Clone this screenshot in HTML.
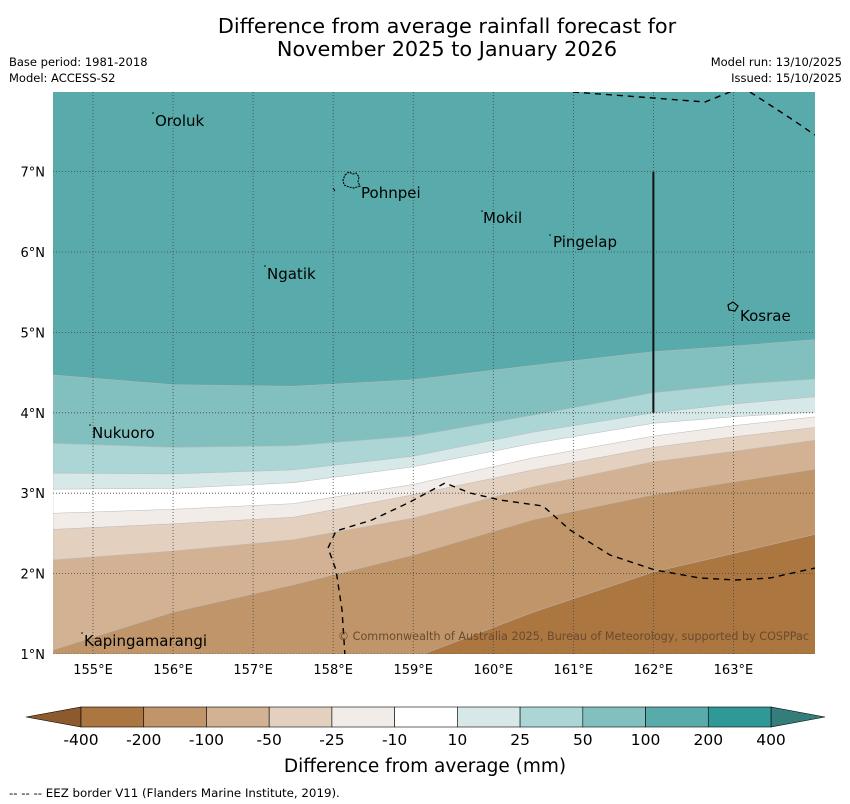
<!DOCTYPE html>
<html><head><meta charset="utf-8"><style>
body{margin:0;background:#fff;width:850px;height:804px;overflow:hidden;font-family:"Liberation Sans","DejaVu Sans",sans-serif}
svg{display:block}
</style></head><body>
<svg id="chart" width="850" height="804" viewBox="0 0 850 804" xmlns="http://www.w3.org/2000/svg">
<text x="447" y="33" font-size="20.8" text-anchor="middle" font-family="DejaVu Sans,sans-serif">Difference from average rainfall forecast for</text>
<text x="447" y="56" font-size="20.8" text-anchor="middle" font-family="DejaVu Sans,sans-serif">November 2025 to January 2026</text>
<text x="9" y="66" font-size="11.5" font-family="DejaVu Sans,sans-serif">Base period: 1981-2018</text>
<text x="9" y="82" font-size="11.5" font-family="DejaVu Sans,sans-serif">Model: ACCESS-S2</text>
<text x="842" y="66" font-size="11.5" text-anchor="end" font-family="DejaVu Sans,sans-serif">Model run: 13/10/2025</text>
<text x="842" y="82" font-size="11.5" text-anchor="end" font-family="DejaVu Sans,sans-serif">Issued: 15/10/2025</text>
<defs><clipPath id="mapclip"><rect x="53" y="92" width="762" height="562"/></clipPath></defs>
<g id="map" clip-path="url(#mapclip)">
<rect x="53" y="92" width="762" height="562" fill="#59abab"/>
<g id="bands"></g>
<g id="grid"></g>
<line id="line162" stroke="#111" stroke-width="2"/>
<g fill="none" stroke="#000" stroke-width="1.4" stroke-dasharray="6,5">
<path d="M573 92 L640 97 L705 102 L735 90"/>
<path d="M750 92 L790 118 L815 135"/>
<path d="M345 656 L342 610 L336 570 L328 548 L336 531 L372 520 L410 502 L445 483 L470 493 L500 500 L543 506 L570 530 L610 555 L655 570 L700 578 L735 580 L770 578 L815 568"/>
</g>
<path d="M345 175 L349 172 L353 174 L356 173 L359 177 L358 182 L360 186 L354 188 L349 187 L344 185 L343 180 Z" fill="none" stroke="#000" stroke-width="1.1" stroke-dasharray="2,1"/>
<path d="M333 188 L335 191" stroke="#000" stroke-width="1"/>
<path d="M728 305 L733 302 L738 306 L735 311 L729 310 Z" fill="none" stroke="#000" stroke-width="1.2"/>
<g font-size="15" font-family="DejaVu Sans,sans-serif" fill="#000">
<text x="155" y="126">Oroluk</text>
<text x="361" y="198">Pohnpei</text>
<text x="483" y="223">Mokil</text>
<text x="553" y="247">Pingelap</text>
<text x="267" y="279">Ngatik</text>
<text x="740" y="321">Kosrae</text>
<text x="92" y="438">Nukuoro</text>
<text x="84" y="646">Kapingamarangi</text>
</g>
<g fill="#000"><circle cx="153" cy="113" r="0.8"/><circle cx="482" cy="211" r="0.8"/><circle cx="550" cy="235" r="0.8"/><circle cx="265" cy="266" r="0.8"/><circle cx="90" cy="425" r="0.8"/><circle cx="82" cy="633" r="0.8"/></g>
<text x="809" y="640" font-size="11.2" text-anchor="end" fill="#6b4a2e" font-family="DejaVu Sans,sans-serif">© Commonwealth of Australia 2025, Bureau of Meteorology, supported by COSPPac</text>
</g>
<g id="axes" font-size="13" font-family="DejaVu Sans,sans-serif"></g>
<g id="colorbar"></g>
<text x="425" y="772" font-size="18.5" text-anchor="middle" font-family="DejaVu Sans,sans-serif">Difference from average (mm)</text>
<text x="9" y="797" font-size="11.8" font-family="DejaVu Sans,sans-serif">--  --  -- EEZ border V11 (Flanders Marine Institute, 2019).</text>
</svg>
<script>
const lons = [154.5, 156, 157.5, 159, 160.5, 162, 163, 164.03];
const b200 = [4.47, 4.35, 4.33, 4.41, 4.59, 4.76, 4.83, 4.91];
const b100 = [3.62, 3.57, 3.59, 3.71, 3.97, 4.25, 4.35, 4.42];
const b50 = [3.25, 3.24, 3.29, 3.46, 3.76, 4.00, 4.11, 4.20];
const b25 = [3.05, 3.06, 3.13, 3.33, 3.62, 3.87, 3.95, 4.01];
const b10 = [2.75, 2.80, 2.87, 3.11, 3.44, 3.71, 3.84, 3.95];
const bm10 = [2.55, 2.62, 2.70, 2.98, 3.29, 3.57, 3.70, 3.82];
const bm25 = [2.17, 2.28, 2.42, 2.69, 3.08, 3.39, 3.52, 3.66];
const bm50 = [1.05, 1.52, 1.86, 2.23, 2.67, 2.98, 3.14, 3.30];
const bm100 = [0.7, 0.7, 0.7, 0.95, 1.52, 2.02, 2.25, 2.49];
const levels = ["-400","-200","-100","-50","-25","-10","10","25","50","100","200","400"];
const levelColors = ["#ab7640","#c0956a","#d2b292","#e3d0bf","#f2ece8","#ffffff","#d6e9e8","#abd6d5","#81c0bf","#59abab","#2f9998"];
const lonTicks = [155,156,157,158,159,160,161,162,163];
const latTicks = [1,2,3,4,5,6,7];
const NS="http://www.w3.org/2000/svg";
const xS = lon => 53 + (lon - 154.5) * 80.05;
const yS = lat => 654 - (lat - 1) * 80.4;
function mk(tag, attrs, parent){const e=document.createElementNS(NS,tag);for(const k in attrs)e.setAttribute(k,attrs[k]);parent.appendChild(e);return e;}
const bands=document.getElementById('bands');
const boundaries=[[b200,"#81c0bf","band-50-100"],[b100,"#abd6d5","band-25-50"],[b50,"#d6e9e8","band-10-25"],[b25,"#ffffff","band-neutral"],[b10,"#f2ece8","band-minus10-25"],[bm10,"#e3d0bf","band-minus25-50"],[bm25,"#d2b292","band-minus50-100"],[bm50,"#c0956a","band-minus100-200"],[bm100,"#ab7640","band-minus200-400"]];
boundaries.forEach(([arr,col,name])=>{
  let d="M"+xS(lons[0])+" "+yS(arr[0]);
  for(let i=1;i<lons.length;i++) d+=" L"+xS(lons[i]).toFixed(1)+" "+yS(arr[i]).toFixed(1);
  d+=" L"+xS(lons[lons.length-1])+" 700 L"+xS(lons[0])+" 700 Z";
  const p=mk('path',{d:d,fill:col,stroke:"#b9b9b9","stroke-width":"0.5"},bands);
  
  
});
const grid=document.getElementById('grid');
lonTicks.forEach(l=>{const g=mk('line',{x1:xS(l),x2:xS(l),y1:92,y2:654,stroke:"#444","stroke-width":"0.8","stroke-dasharray":"1,2"},grid);
  
  });
latTicks.forEach(l=>{const g=mk('line',{x1:53,x2:815,y1:yS(l),y2:yS(l),stroke:"#444","stroke-width":"0.8","stroke-dasharray":"1,2"},grid);
  
  });
const l162=document.getElementById('line162');
l162.setAttribute('x1',xS(162));l162.setAttribute('x2',xS(162));l162.setAttribute('y1',yS(7));l162.setAttribute('y2',yS(4));
const axes=document.getElementById('axes');
lonTicks.forEach(l=>{const t=mk('text',{x:xS(l),y:674,"text-anchor":"middle"},axes);t.textContent=l+"°E";
  
  });
latTicks.forEach(l=>{const t=mk('text',{x:45,y:yS(l)+5,"text-anchor":"end"},axes);t.textContent=l+"°N";
  
  });
const cb=document.getElementById('colorbar');
const cx0=81,cx1=771,cw=(cx1-cx0)/levelColors.length;
const lt=mk('polygon',{points:`26,717 ${cx0},707 ${cx0},727`,fill:"#8d5a2e",stroke:"#000","stroke-width":"0.6"},cb);


const rt=mk('polygon',{points:`825,717 ${cx1},707 ${cx1},727`,fill:"#357d7b",stroke:"#000","stroke-width":"0.6"},cb);


levelColors.forEach((c,i)=>{const r=mk('rect',{x:cx0+i*cw,y:707,width:cw,height:20,fill:c,stroke:"#000","stroke-width":"0.6"},cb);
  
  });
levels.forEach((s,i)=>{const t=mk('text',{x:cx0+i*cw,y:745,"text-anchor":"middle","font-size":"15.5","font-family":"DejaVu Sans,sans-serif"},cb);t.textContent=s;
  
  });
</script>
</body></html>
